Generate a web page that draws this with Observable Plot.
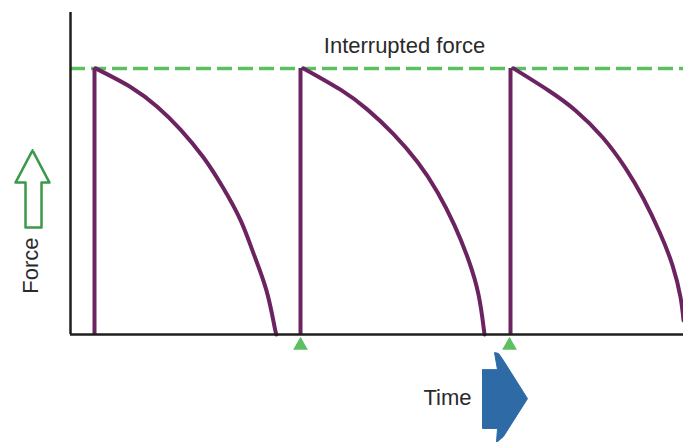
<!DOCTYPE html>
<html>
<head>
<meta charset="utf-8">
<script src="https://cdn.jsdelivr.net/npm/d3@7"></script>
<script src="https://cdn.jsdelivr.net/npm/@observablehq/plot@0.6"></script>
<style>
  html, body { margin: 0; padding: 0; background: #fff; }
  #chart svg { display: block; }
</style>
</head>
<body>
<div id="chart"></div>
<script>
// Time units (arbitrary), Force as % of the interrupted-force level
const cycleStarts = [24, 230, 440];          // moments force is re-applied
const peakForce = 100;                        // interrupted force level
const markerTimes = [230, 439];               // green markers on time axis

// decay curves: [time, force]
const decay1 = [[25,100],[60,93],[87,85.5],[110,77],[133,66.5],[152,55.5],[170,43],[183,30.5],[196,16.5],[204,3],[206,0]];
const decay2 = [[233,100],[270,92],[297,84.5],[323,75.3],[347,64.8],[367,53.5],[384,41],[398,28],[408,15],[413,3],[414,0]];
const decay3 = [[443,100],[478,91.7],[505,84.2],[532,74.1],[555,62.5],[573,51],[589,38.5],[602,26],[610,14],[613,5.3]];

// decorative arrows (in data coordinates)
const forceArrow = [[-38,69.2],[-21,57.1],[-29,57.1],[-29,40.2],[-45,40.2],[-45,57.1],[-55,57.1],[-38,69.2]];
const timeArrow = [[412,-13.2],[427,-13.2],[424,-6.8],[428,-7.1],[433,-9.8],[457,-24.1],[433,-38.3],[426,-40.6],[427,-35.3],[412,-35.3],[412,-13.2]];

const labels = [
  {t: 334, f: 108.3, text: "Interrupted force", rotate: 0},
  {t: 377, f: -23.7, text: "Time", rotate: 0},
  {t: -40, f: 25.9, text: "Force", rotate: -90}
];

const timeMax = 613, forceMax = 121;
const purple = "#6b2460", green = "#5cc060";

const toObj = a => a.map(([t, f]) => ({t, f}));
const decays = [decay1, decay2, decay3].flatMap((c, i) => toObj(c).map(d => ({...d, cycle: i})));

const chart = Plot.plot({
  width: 683,
  height: 442,
  marginLeft: 70,
  marginRight: 0,
  marginTop: 12,
  marginBottom: 108,
  x: {domain: [0, timeMax], axis: null},
  y: {domain: [0, forceMax], axis: null},
  style: {fontFamily: "'Liberation Sans', Arial, sans-serif", background: "#fff"},
  marks: [
    Plot.ruleY([peakForce], {x1: 0, x2: timeMax, stroke: green, strokeWidth: 3.5, strokeDasharray: "15,6"}),
    Plot.ruleX(cycleStarts, {y1: 0, y2: peakForce, stroke: purple, strokeWidth: 4}),
    Plot.line(decays, {x: "t", y: "f", z: "cycle", stroke: purple, strokeWidth: 4, curve: "natural"}),
    Plot.ruleX([0], {y1: 0, y2: forceMax, stroke: "#1e1e1e", strokeWidth: 2.5}),
    Plot.ruleY([0], {x1: 0, x2: timeMax, stroke: "#1e1e1e", strokeWidth: 2.5}),
    Plot.dot(markerTimes, {x: d => d, y: -4.1, symbol: "triangle", r: 5.5, fill: green, stroke: null}),
    Plot.line(toObj(forceArrow), {x: "t", y: "f", stroke: "#3a9a48", strokeWidth: 2.5, fill: "none"}),
    Plot.line(toObj(timeArrow), {x: "t", y: "f", stroke: "#2e6aa6", strokeWidth: 1, fill: "#2e6aa6"}),
    Plot.text(labels, {x: "t", y: "f", text: "text", rotate: "rotate", fontSize: 22, fill: "#2a2a2a"})
  ]
});
document.getElementById("chart").appendChild(chart);
</script>
</body>
</html>
